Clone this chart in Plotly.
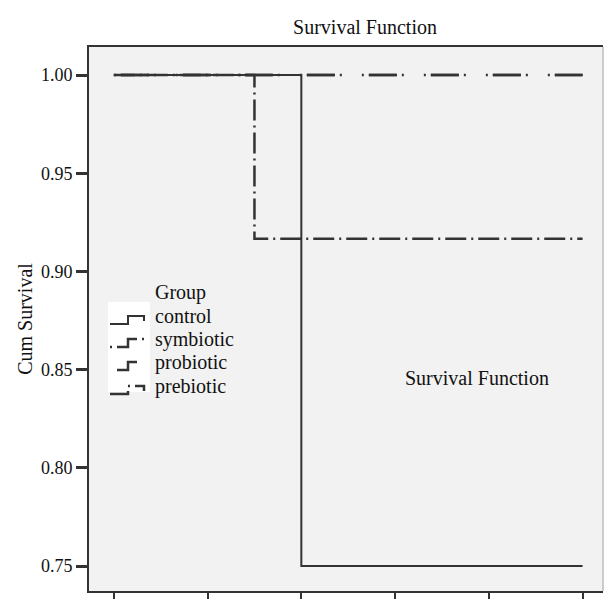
import plotly.graph_objects as go

groups = ["control", "symbiotic", "probiotic", "prebiotic"]
control_t = [0, 2, 5]
control_s = [1.0, 0.75, 0.75]
symbiotic_t = [0, 5]
symbiotic_s = [1.0, 1.0]
probiotic_t = [0, 5]
probiotic_s = [1.0, 1.0]
prebiotic_t = [0, 1.5, 5]
prebiotic_s = [1.0, 0.9167, 0.9167]

y_ticks = [0.75, 0.80, 0.85, 0.90, 0.95, 1.00]
x_ticks = [0, 1, 2, 3, 4, 5]

FONT = "Liberation Serif"
INK = "#333333"
TXT = "#111111"

W, H = 607, 599
ML, MR, MT, MB = 89, 4, 47, 8
PW, PH = W - ML - MR, H - MT - MB

styles = {
    "control": dict(dash="solid", width=2),
    "symbiotic": dict(dash="2px,5px,28px,5px,2px,20px", width=2.5),
    "probiotic": dict(dash="0px,7px,28px,27px", width=2.5),
    "prebiotic": dict(dash="21px,5px,2px,5px", width=2.5),
}
series = {
    "control": (control_t, control_s),
    "symbiotic": (symbiotic_t, symbiotic_s),
    "probiotic": (probiotic_t, probiotic_s),
    "prebiotic": (prebiotic_t, prebiotic_s),
}


def px(xp):
    return (xp - ML) / PW


def py(yp):
    return 1 - (yp - MT) / PH


fig = go.Figure()
for name in ["symbiotic", "probiotic", "prebiotic", "control"]:
    t, s = series[name]
    st = styles[name]
    fig.add_trace(go.Scatter(x=t, y=s, name=name, mode="lines", showlegend=False,
                             line=dict(shape="hv", color=INK, width=st["width"], dash=st["dash"])))

# manual legend (step-shaped glyphs like the original)
shapes = [dict(type="rect", xref="paper", yref="paper",
               x0=px(108), x1=px(150), y0=py(392), y1=py(302),
               fillcolor="white", line=dict(width=0), layer="above")]
annotations = [dict(text="Group", x=px(153), y=py(292), xref="paper", yref="paper",
                    xanchor="left", yanchor="middle", showarrow=False,
                    font=dict(family=FONT, size=20, color=TXT))]
row_y = [316, 339, 362, 386]
for name, yc in zip(groups, row_y):
    st = styles[name]
    yh, yl = yc, yc + 8
    path = (f"M {px(110)},{py(yl)} L {px(128)},{py(yl)} L {px(128)},{py(yh)} "
            f"L {px(144)},{py(yh)} L {px(144)},{py(yh + 5)}")
    shapes.append(dict(type="path", xref="paper", yref="paper", path=path,
                       line=dict(color=INK, width=st["width"], dash=st["dash"]), layer="above"))
    annotations.append(dict(text=name, x=px(153), y=py(yc), xref="paper", yref="paper",
                            xanchor="left", yanchor="middle", showarrow=False,
                            font=dict(family=FONT, size=20, color=TXT)))

annotations.append(dict(text="Survival Function", x=px(477), y=py(378), xref="paper", yref="paper",
                        xanchor="center", yanchor="middle", showarrow=False,
                        font=dict(family=FONT, size=20, color=TXT)))
# faint right border
shapes.append(dict(type="line", xref="paper", yref="paper", x0=1, x1=1, y0=0, y1=1,
                   line=dict(color="#bdbdbd", width=1.5)))

fig.update_layout(
    width=W, height=H,
    margin=dict(l=ML, r=MR, t=MT, b=MB, autoexpand=False),
    paper_bgcolor="white",
    plot_bgcolor="#f2f2f2",
    font=dict(family=FONT, size=18, color=TXT),
    title=dict(text="Survival Function", x=365 / W, xref="container", xanchor="center",
               y=1 - 27 / H, yref="container", yanchor="middle",
               font=dict(family=FONT, size=20, color=TXT)),
    showlegend=False,
    hovermode=False,
    xaxis=dict(range=[-0.265, 5.218], tickvals=x_ticks, showticklabels=False,
               ticks="outside", ticklen=8, tickwidth=2, tickcolor=INK,
               showline=True, linecolor=INK, linewidth=2, mirror=True,
               showgrid=False, zeroline=False, automargin=False),
    yaxis=dict(range=[0.7373, 1.0143], tickvals=y_ticks, tickformat=".2f",
               ticks="outside", ticklen=11, tickwidth=3, tickcolor=INK,
               showline=True, linecolor=INK, linewidth=2, mirror=False,
               showgrid=False, zeroline=False, automargin=False,
               tickfont=dict(size=18),
               title=dict(text="Cum Survival", standoff=3, font=dict(size=20))),
    shapes=shapes,
    annotations=annotations,
)

fig.write_html("out.html", config={"displayModeBar": False, "staticPlot": True},
               post_script="document.body.style.margin='0';")
